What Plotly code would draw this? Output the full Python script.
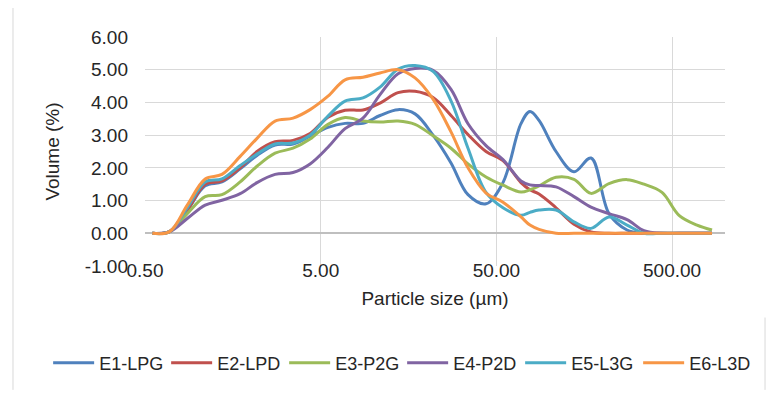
import plotly.graph_objects as go

# Particle size (µm) – log-spaced measurement points
particle_size = [0.55, 0.69, 0.87, 1.10, 1.37, 1.74, 2.17, 2.75, 3.48, 4.35, 5.50, 6.88,
                 8.70, 10.88, 13.77, 17.21, 21.79, 27.58, 34.46, 43.63, 54.5, 69.0, 77.6, 87.4,
                 109.2, 138.2, 172.7, 218.7, 276.9, 346.0, 438.0, 547.4, 693.0, 843.6]

series_names = ["E1-LPG", "E2-LPD", "E3-P2G", "E4-P2D", "E5-L3G", "E6-L3D"]

e1_lpg = [0, 0.05, 0.7, 1.45, 1.57, 1.97, 2.38, 2.7, 2.73, 2.97, 3.24, 3.36, 3.36, 3.6, 3.78,
          3.65, 3.0, 2.15, 1.18, 0.9, 1.55, 3.35, 3.72, 3.45, 2.5, 1.88, 2.3, 0.6, 0.1, 0, 0, 0, 0, 0]
e2_lpd = [0, 0.05, 0.7, 1.5, 1.6, 2.0, 2.5, 2.8, 2.84, 3.05, 3.55, 3.76, 3.77, 3.98, 4.3,
          4.34, 4.15, 3.6, 3.02, 2.5, 2.22, 1.55, 1.33, 1.2, 0.78, 0.28, 0.04, 0, 0, 0, 0, 0, 0, 0]
e3_p2g = [0, 0.05, 0.6, 1.12, 1.18, 1.57, 2.05, 2.45, 2.6, 2.88, 3.33, 3.54, 3.43, 3.4, 3.43,
          3.33, 2.98, 2.6, 2.12, 1.72, 1.47, 1.26, 1.33, 1.45, 1.71, 1.65, 1.22, 1.52, 1.64, 1.5,
          1.25, 0.55, 0.25, 0.1]
e4_p2d = [0, 0.05, 0.45, 0.86, 1.01, 1.21, 1.55, 1.8, 1.86, 2.12, 2.63, 3.2, 3.52, 4.24, 4.88,
          5.04, 4.98, 4.4, 3.35, 2.68, 2.25, 1.6, 1.48, 1.46, 1.42, 1.12, 0.8, 0.6, 0.42, 0.08,
          0, 0, 0, 0]
e5_l3g = [0, 0.05, 0.78, 1.57, 1.66, 2.07, 2.42, 2.73, 2.76, 3.0, 3.58, 4.04, 4.14, 4.47, 5.02,
          5.13, 4.95, 4.05, 2.6, 1.25, 0.78, 0.55, 0.64, 0.71, 0.71, 0.35, 0.15, 0.5, 0.25, 0,
          0, 0, 0, 0]
e6_l3d = [0, 0.05, 0.86, 1.66, 1.8, 2.35, 2.9, 3.43, 3.52, 3.78, 4.19, 4.69, 4.77, 4.9, 5.0,
          4.75, 4.1, 3.1, 2.0, 1.23, 0.95, 0.5, 0.25, 0.12, 0, 0, 0, 0, 0, 0, 0, 0, 0, 0]

colors = ["#4F81BD", "#C0504D", "#9BBB59", "#8064A2", "#4BACC6", "#F79646"]

x_tick_vals = [0.5, 5, 50, 500]
x_tick_text = ["0.50", "5.00", "50.00", "500.00"]
y_tick_vals = [-1, 0, 1, 2, 3, 4, 5, 6]
y_tick_text = ["-1.00", "0.00", "1.00", "2.00", "3.00", "4.00", "5.00", "6.00"]

FONT = "Liberation Sans"

fig = go.Figure()
for name, vals, col in zip(series_names, [e1_lpg, e2_lpd, e3_p2g, e4_p2d, e5_l3g, e6_l3d], colors):
    fig.add_trace(go.Scatter(
        x=particle_size, y=vals, name=name, mode="lines",
        line=dict(color=col, width=3, shape="spline", smoothing=1.0),
    ))

# the page body has an 8px default margin, so the figure is sized to fit inside it
fig.update_layout(
    width=771, height=385,
    margin=dict(l=137, r=54, t=29, b=125),
    paper_bgcolor="white", plot_bgcolor="white",
    font=dict(family=FONT, size=19, color="#262626"),
    showlegend=True,
    legend=dict(
        orientation="h", x=-0.167, xanchor="left", y=-0.424, yanchor="middle",
        itemwidth=41, entrywidth=62, entrywidthmode="pixels",
        font=dict(family=FONT, size=18, color="#262626"),
        bgcolor="rgba(0,0,0,0)",
    ),
    xaxis=dict(
        type="log", range=[0.69897 - 1, 3.0],
        tickvals=x_tick_vals, ticktext=x_tick_text,
        showgrid=True, gridcolor="#D9D9D9", gridwidth=1,
        showline=False, zeroline=False, ticks="",
        ticklabelstandoff=-9, automargin=False,
        title=dict(text="Particle size (µm)", font=dict(size=19), standoff=11),
    ),
    yaxis=dict(
        range=[-1, 6], tickvals=y_tick_vals, ticktext=y_tick_text,
        showgrid=True, gridcolor="#D9D9D9", gridwidth=1,
        zeroline=True, zerolinecolor="#BFBFBF", zerolinewidth=1.5,
        showline=False, ticks="",
        ticklabelstandoff=16, automargin=False,
        title=dict(text="Volume (%)", font=dict(size=19), standoff=20),
    ),
    shapes=[
        dict(type="line", xref="paper", yref="paper", x0=-0.2276, x1=-0.2276, y0=1.16, y1=-0.541,
             line=dict(color="#D9D9D9", width=1)),
        dict(type="line", xref="paper", yref="paper", x0=1.069, x1=1.069, y0=-0.225, y1=-0.541,
             line=dict(color="#D9D9D9", width=1)),
    ],
)

fig.write_html("out.html")
